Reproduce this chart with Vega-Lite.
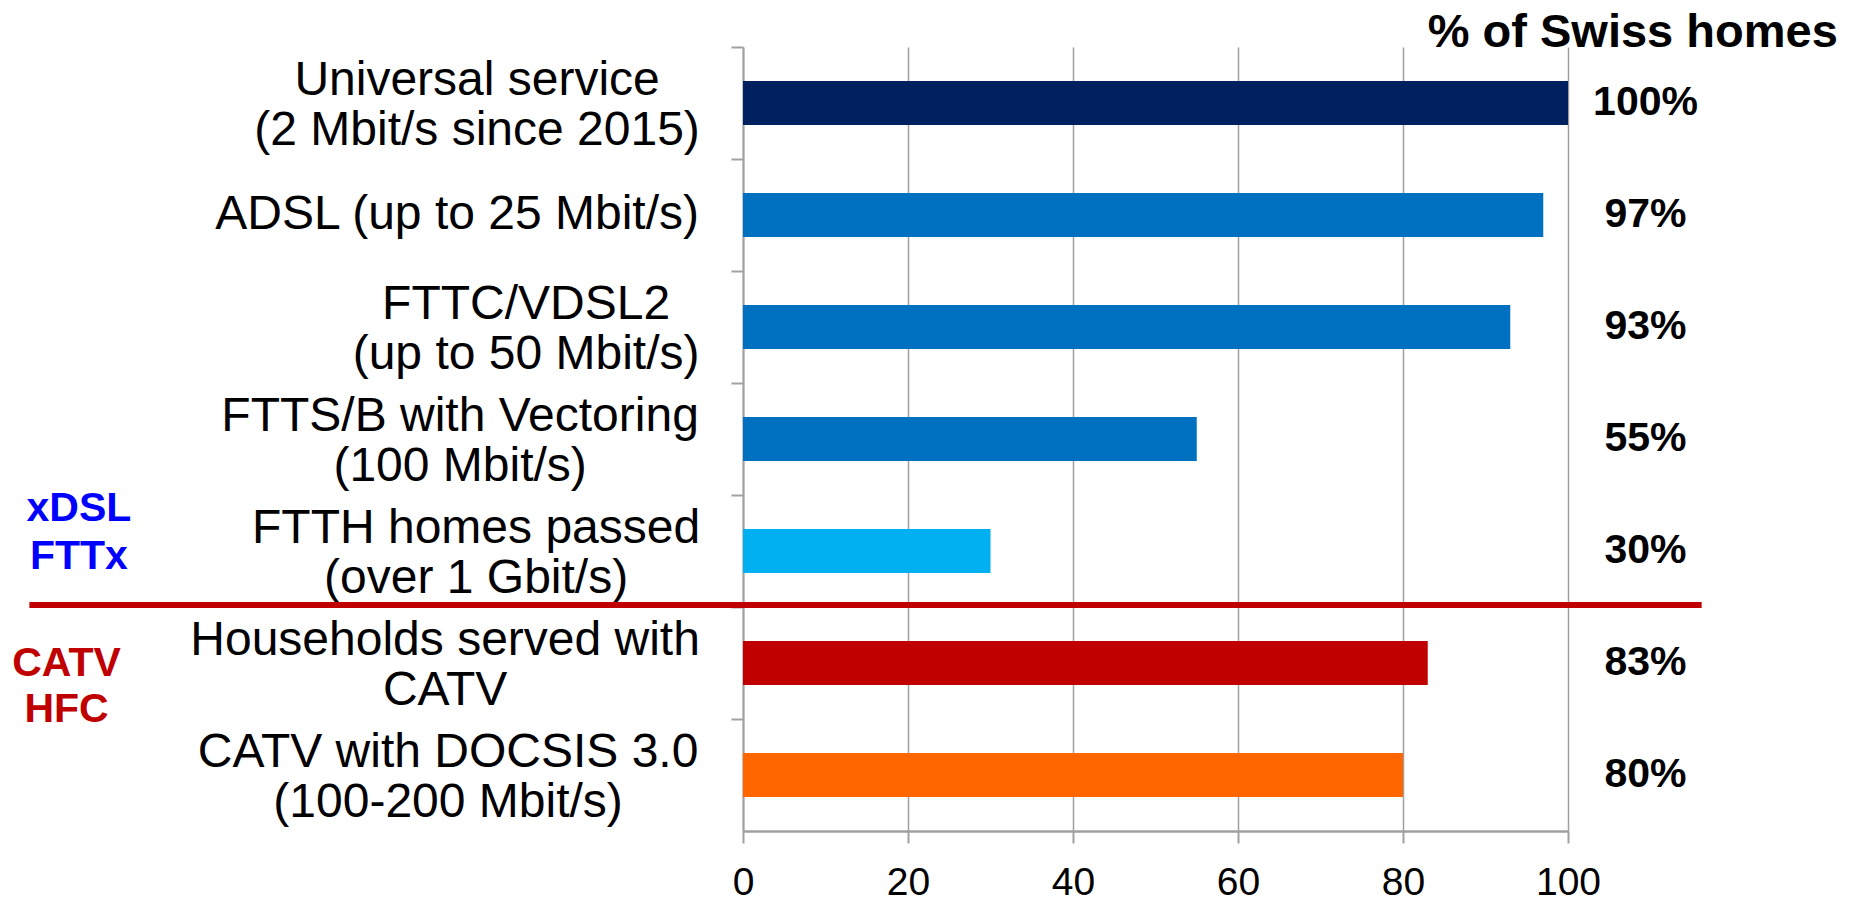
{
  "$schema": "https://vega.github.io/schema/vega-lite/v6.json",
  "autosize": "none",
  "padding": {"left": 743, "top": 47, "right": 292, "bottom": 69},
  "width": 825,
  "height": 784,
  "background": "white",
  "config": {"view": {"stroke": null}},
  "datasets": {
    "bars": [
      {"cat": "Universal service\n(2 Mbit/s since 2015)", "value": 100, "pct": "100%"},
      {"cat": "ADSL (up to 25 Mbit/s)", "value": 97, "pct": "97%"},
      {"cat": "FTTC/VDSL2 \n(up to 50 Mbit/s)", "value": 93, "pct": "93%"},
      {"cat": "FTTS/B with Vectoring\n(100 Mbit/s)", "value": 55, "pct": "55%"},
      {"cat": "FTTH homes passed\n(over 1 Gbit/s)", "value": 30, "pct": "30%"},
      {"cat": "Households served with\nCATV", "value": 83, "pct": "83%"},
      {"cat": "CATV with DOCSIS 3.0\n(100-200 Mbit/s)", "value": 80, "pct": "80%"}
    ],
    "divider": [{"cat": "Households served with\nCATV"}],
    "heading": [{"cat": "Universal service\n(2 Mbit/s since 2015)", "title": "% of Swiss homes"}],
    "grpA": [{"cat": "FTTH homes passed\n(over 1 Gbit/s)", "grp": "xDSL\nFTTx"}],
    "grpB": [{"cat": "Households served with\nCATV", "grp": "CATV\nHFC"}]
  },
  "encoding": {
    "y": {
      "field": "cat", "type": "nominal",
      "scale": {
        "domain": ["Universal service\n(2 Mbit/s since 2015)", "ADSL (up to 25 Mbit/s)", "FTTC/VDSL2 \n(up to 50 Mbit/s)", "FTTS/B with Vectoring\n(100 Mbit/s)", "FTTH homes passed\n(over 1 Gbit/s)", "Households served with\nCATV", "CATV with DOCSIS 3.0\n(100-200 Mbit/s)"],
        "paddingInner": 0.607, "paddingOuter": 0.3035
      },
      "axis": {
        "title": null,
        "labels": false,
        "tickOffset": -56,
        "tickSize": 12,
        "tickColor": "#A0A0A0",
        "tickWidth": 2,
        "domainColor": "#A0A0A0",
        "domainWidth": 2,
        "grid": false
      }
    }
  },
  "layer": [
    {
      "data": {"name": "bars"},
      "mark": {"type": "bar"},
      "encoding": {
        "x": {
          "field": "value", "type": "quantitative",
          "scale": {"domain": [0, 100], "nice": false, "zero": true},
          "axis": {
            "title": null, "values": [0, 20, 40, 60, 80, 100],
            "grid": true, "gridColor": "#A0A0A0", "gridWidth": 1.5,
            "domainColor": "#A0A0A0", "domainWidth": 2.5,
            "tickColor": "#A0A0A0", "tickSize": 12, "tickWidth": 2,
            "labelFont": "Liberation Sans", "labelFontSize": 39, "labelColor": "black",
            "labelPadding": 20, "labelFlush": false
          }
        },
        "color": {
          "field": "cat", "type": "nominal", "legend": null,
          "scale": {
            "domain": ["Universal service\n(2 Mbit/s since 2015)", "ADSL (up to 25 Mbit/s)", "FTTC/VDSL2 \n(up to 50 Mbit/s)", "FTTS/B with Vectoring\n(100 Mbit/s)", "FTTH homes passed\n(over 1 Gbit/s)", "Households served with\nCATV", "CATV with DOCSIS 3.0\n(100-200 Mbit/s)"],
            "range": ["#002060", "#0070C0", "#0070C0", "#0070C0", "#00B0F0", "#C00000", "#FF6600"]
          }
        }
      }
    },
    {
      "data": {"name": "bars"},
      "mark": {
        "type": "text", "font": "Liberation Sans", "fontSize": 48, "color": "black",
        "align": "center", "baseline": "middle", "lineBreak": "\n", "lineHeight": 50,
        "dx": {"expr": "indexof(datum.cat,'Universal')==0 ? -223 : indexof(datum.cat,'ADSL')==0 ? -243 : indexof(datum.cat,'FTTC')==0 ? -174 : indexof(datum.cat,'FTTS')==0 ? -240 : indexof(datum.cat,'FTTH')==0 ? -224 : indexof(datum.cat,'Households')==0 ? -255 : -252"},
        "dy": {"expr": "indexof(datum.cat,'\\n')>=0 ? -22 : 0"}
      },
      "encoding": {
        "x": {"datum": -5.2, "type": "quantitative"},
        "text": {"field": "cat"}
      }
    },
    {
      "data": {"name": "bars"},
      "mark": {"type": "text", "font": "Liberation Sans", "fontSize": 41, "fontWeight": "bold", "color": "black", "align": "center", "baseline": "middle"},
      "encoding": {
        "x": {"datum": 109.4, "type": "quantitative"},
        "text": {"field": "pct"}
      }
    },
    {
      "data": {"name": "heading"},
      "mark": {"type": "text", "font": "Liberation Sans", "fontSize": 47, "fontWeight": "bold", "color": "black", "align": "right", "baseline": "alphabetic", "dy": -56},
      "encoding": {
        "x": {"datum": 132.7, "type": "quantitative"},
        "text": {"field": "title"}
      }
    },
    {
      "data": {"name": "divider"},
      "mark": {"type": "rule", "color": "#C00000", "strokeWidth": 6, "yOffset": -36},
      "encoding": {
        "y": {"field": "cat", "type": "nominal", "bandPosition": 0},
        "x": {"datum": -86.5, "type": "quantitative"},
        "x2": {"datum": 116.2}
      }
    },
    {
      "data": {"name": "grpA"},
      "mark": {"type": "text", "font": "Liberation Sans", "fontSize": 41, "fontWeight": "bold", "color": "#0000FF", "align": "center", "baseline": "middle", "lineBreak": "\n", "lineHeight": 48, "dy": -42},
      "encoding": {
        "x": {"datum": -80.5, "type": "quantitative"},
        "text": {"field": "grp"}
      }
    },
    {
      "data": {"name": "grpB"},
      "mark": {"type": "text", "font": "Liberation Sans", "fontSize": 41, "fontWeight": "bold", "color": "#C00000", "align": "center", "baseline": "middle", "lineBreak": "\n", "lineHeight": 46, "dy": 1},
      "encoding": {
        "x": {"datum": -82, "type": "quantitative"},
        "text": {"field": "grp"}
      }
    }
  ]
}
